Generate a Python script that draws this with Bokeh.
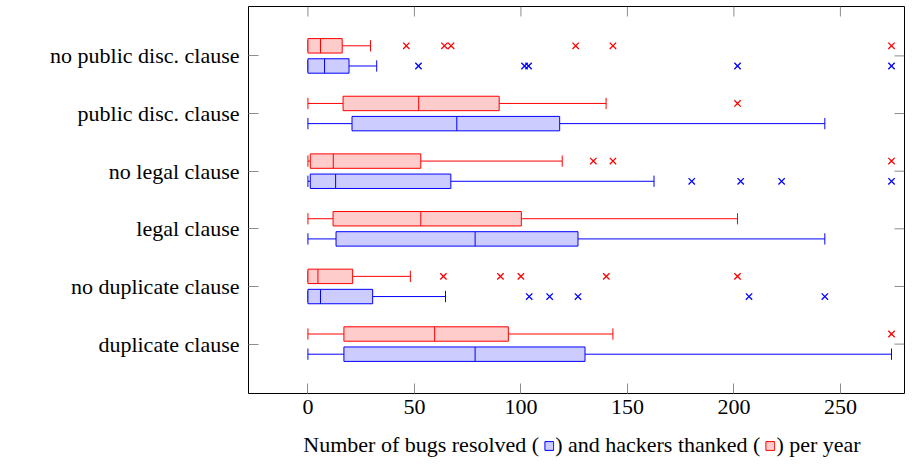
from bokeh.plotting import figure
from bokeh.layouts import column
from bokeh.models import Range1d, FixedTicker, ColumnDataSource, Legend, LegendItem
from bokeh.embed import file_html
from bokeh.resources import INLINE

# ---------------- data ----------------
categories = ["duplicate clause", "no duplicate clause", "legal clause",
              "no legal clause", "public disc. clause", "no public disc. clause"]

# bugs resolved per year (blue)
bugs_low = [0, 0, 0, 0, 0, 0]
bugs_q1 = [16.9, 0, 13.2, 1.1, 20.7, 0]
bugs_median = [78.5, 5.9, 78.5, 13.0, 69.9, 7.8]
bugs_q3 = [130.1, 30.4, 126.8, 67.1, 118.2, 19.3]
bugs_high = [274, 64.6, 242.7, 162.5, 242.7, 32.3]
bugs_outliers = [[], [103.9, 113.5, 126.8, 207.1, 242.7], [],
                 [180.2, 203.2, 222.4, 274], [], [51.9, 101.7, 103.6, 201.7, 274]]

# hackers thanked per year (red)
thanks_low = [0, 0, 0, 0, 0, 0]
thanks_q1 = [16.9, 0, 11.8, 1.1, 16.5, 0]
thanks_median = [59.5, 4.7, 53.0, 11.9, 52.0, 5.9]
thanks_q3 = [94.1, 21.0, 100.2, 53.0, 89.8, 16.1]
thanks_high = [143.2, 48.1, 201.7, 119.4, 140.0, 29.4]
thanks_outliers = [[274], [63.6, 90.4, 100.0, 140.1, 201.7], [],
                   [134.0, 143.2, 274], [201.7], [46.2, 64.1, 67.2, 125.7, 143.2, 274]]

x_ticks = [0, 50, 100, 150, 200, 250]
label_parts = ["Number of bugs resolved (", ") and hackers thanked (", ") per year"]

FONT = "Liberation Serif"
FS = "22px"
BLUE, BLUE_FILL = "#0000ff", "#ccccff"
RED, RED_FILL = "#ff0000", "#ffcccc"
TICK_COLOR = "#8c8c8c"

ypos = list(range(1, len(categories) + 1))
X0, X1 = -27.9, 280.1
Y0, Y1 = 0.143, 6.857
FRAME_W, FRAME_H = 656, 387

p = figure(width=905, height=428, output_backend="svg", toolbar_location=None,
           x_range=Range1d(X0, X1), y_range=Range1d(Y0, Y1),
           min_border_left=248, min_border_right=1, min_border_top=6, min_border_bottom=35)
p.grid.visible = False
p.outline_line_color = "black"
p.outline_line_width = 1
p.background_fill_color = "white"
p.border_fill_color = "white"


def style_axis(ax):
    ax.axis_line_color = None
    ax.major_tick_in = 10
    ax.major_tick_out = 0
    ax.minor_tick_line_color = None
    ax.major_tick_line_color = TICK_COLOR
    ax.major_tick_line_width = 1
    ax.major_label_text_font = FONT
    ax.major_label_text_font_size = FS
    ax.major_label_text_color = "black"


xa = p.xaxis[0]
xa.ticker = FixedTicker(ticks=x_ticks)
style_axis(xa)
xa.major_label_standoff = 6

ya = p.yaxis[0]
ya.ticker = FixedTicker(ticks=ypos)
ya.major_label_overrides = {y: c for y, c in zip(ypos, categories)}
style_axis(ya)
ya.major_label_standoff = 9

# mirrored inward ticks on the top and right frame edges
tdx = 10 * (X1 - X0) / FRAME_W
tdy = 10 * (Y1 - Y0) / FRAME_H
p.segment(x0=x_ticks, x1=x_ticks, y0=[Y1] * len(x_ticks), y1=[Y1 - tdy] * len(x_ticks),
          line_color=TICK_COLOR, line_width=1)
p.segment(x0=[X1] * len(ypos), x1=[X1 - tdx] * len(ypos), y0=ypos, y1=ypos,
          line_color=TICK_COLOR, line_width=1)

BOX_H = 0.25
CAP = 0.098


def draw(offset, low, q1, med, q3, high, outliers, line, fill):
    yc = [y + offset for y in ypos]
    src = ColumnDataSource(dict(y=yc, ylo=[y - BOX_H / 2 for y in yc], yhi=[y + BOX_H / 2 for y in yc],
                                clo=[y - CAP for y in yc], chi=[y + CAP for y in yc],
                                low=low, q1=q1, med=med, q3=q3, high=high))
    p.segment(x0="low", y0="y", x1="q1", y1="y", source=src, line_color=line, line_width=1)
    p.segment(x0="q3", y0="y", x1="high", y1="y", source=src, line_color=line, line_width=1)
    p.segment(x0="low", y0="clo", x1="low", y1="chi", source=src, line_color=line, line_width=1)
    p.segment(x0="high", y0="clo", x1="high", y1="chi", source=src, line_color=line, line_width=1)
    p.hbar(y="y", left="q1", right="q3", height=BOX_H, source=src,
           fill_color=fill, line_color=line, line_width=1)
    p.segment(x0="med", y0="ylo", x1="med", y1="yhi", source=src, line_color=line, line_width=1)
    ox, oy = [], []
    for y, vals in zip(yc, outliers):
        for v in vals:
            ox.append(v)
            oy.append(y)
    p.scatter(x=ox, y=oy, marker="x", size=9, line_color=line, line_width=1.3)


draw(-0.175, bugs_low, bugs_q1, bugs_median, bugs_q3, bugs_high, bugs_outliers, BLUE, BLUE_FILL)
draw(0.175, thanks_low, thanks_q1, thanks_median, thanks_q3, thanks_high, thanks_outliers, RED, RED_FILL)

# x-axis caption with the two little box keys, drawn as a horizontal legend strip
cap = figure(width=905, height=34, output_backend="svg", toolbar_location=None,
             x_axis_type=None, y_axis_type=None, x_range=Range1d(0, 1), y_range=Range1d(0, 1),
             min_border_left=248, min_border_right=1, min_border_top=0, min_border_bottom=0)
cap.outline_line_color = None
cap.background_fill_color = "white"
cap.border_fill_color = "white"
# key renderers: a single bar kept outside the strip's visible range, only their legend icons show
key_src = ColumnDataSource(dict(y=[-9], left=[-9], right=[-8]))
k0 = cap.hbar(y="y", left="left", right="right", height=1, source=key_src, fill_alpha=0, line_alpha=0)
k1 = cap.hbar(y="y", left="left", right="right", height=1, source=key_src,
              fill_color=BLUE_FILL, line_color=BLUE, line_width=1)
k2 = cap.hbar(y="y", left="left", right="right", height=1, source=key_src,
              fill_color=RED_FILL, line_color=RED, line_width=1)
caption = Legend(items=[LegendItem(label=label_parts[0], renderers=[k0]),
                        LegendItem(label=label_parts[1], renderers=[k1]),
                        LegendItem(label=label_parts[2], renderers=[k2])],
                 orientation="horizontal", location="center",
                 glyph_width=11, glyph_height=11, label_standoff=1, spacing=4,
                 padding=0, margin=0, border_line_color=None, background_fill_alpha=0,
                 label_text_font=FONT, label_text_font_size=FS, label_text_color="black")
cap.add_layout(caption)

open("out.html", "w").write(file_html(column(p, cap, spacing=0), INLINE))
